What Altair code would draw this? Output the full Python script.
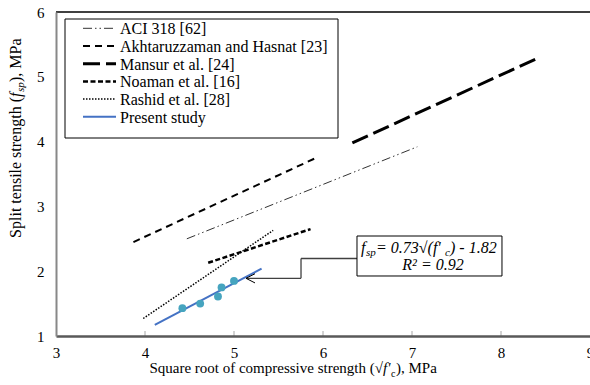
import altair as alt
import pandas as pd

# ---------------- data ----------------
x_ticks = [3, 4, 5, 6, 7, 8, 9]
y_ticks = [1, 2, 3, 4, 5, 6]

# present-study test results
test_x = [4.42, 4.62, 4.82, 4.86, 5.00]
test_y = [1.43, 1.50, 1.61, 1.75, 1.85]

# model lines (start / end points)
series_names = ["ACI 318 [62]", "Akhtaruzzaman and Hasnat [23]", "Mansur et al. [24]",
                "Noaman et al. [16]", "Rashid et al. [28]", "Present study"]
line_x0 = [4.47, 3.87, 6.33, 4.71, 3.98, 4.11]
line_y0 = [2.50, 2.45, 3.98, 2.13, 1.27, 1.17]
line_x1 = [7.06, 5.94, 8.40, 5.86, 5.44, 5.31]
line_y1 = [3.92, 3.76, 5.28, 2.65, 2.63, 2.04]

# annotation (data units)
box_x = [6.382]
box_x2 = [8.011]
box_y = [2.543]
box_y2 = [1.926]
seg_x = [6.382, 5.753, 5.753]
seg_y = [2.196, 2.196, 1.890]
seg_x2 = [5.753, 5.753, 5.135]
seg_y2 = [2.196, 1.890, 1.890]
head_x = [5.135, 5.135]
head_y = [1.890, 1.890]
head_x2 = [5.236, 5.236]
head_y2 = [1.961, 1.819]

# ---------------- styling ----------------
FONT = "Liberation Serif"
W, H = 534, 324
styles = [
    dict(strokeDash=[9, 3, 1.5, 3, 1.5, 3], strokeWidth=1, color="#333333"),
    dict(strokeDash=[7, 5], strokeWidth=2, color="black"),
    dict(strokeDash=[17, 6], strokeWidth=3, color="black"),
    dict(strokeDash=[5, 2.5], strokeWidth=2.5, color="black"),
    dict(strokeDash=[1.5, 1.5], strokeWidth=1.5, color="black"),
    dict(strokeWidth=2, color="#4472C4"),
]

xs = alt.Scale(domain=[3, 9], nice=False, zero=False)
ys = alt.Scale(domain=[1, 6], nice=False, zero=False)
xaxis = alt.Axis(values=x_ticks, title=None, ticks=False, tickSize=0, grid=False,
                 labelFont=FONT, labelFontSize=15, labelColor="black", labelPadding=9,
                 labelFlush=False, labelOverlap=False, domainColor="#595959",
                 domainWidth=2.5, zindex=1)
yaxis = alt.Axis(values=y_ticks, title=None, ticks=False, tickSize=0, grid=False,
                 labelFont=FONT, labelFontSize=15, labelColor="black", labelPadding=12,
                 labelFlush=False, labelOverlap=False, domainColor="#888888",
                 domainWidth=2, zindex=1)


def X(f):
    return alt.X(f, type="quantitative", scale=xs, axis=xaxis)


def Y(f):
    return alt.Y(f, type="quantitative", scale=ys, axis=yaxis)


one = pd.DataFrame({"k": [0]})
layers = []

# top frame line
layers.append(alt.Chart(one).mark_rule(color="black", strokeWidth=1.5).encode(
    x=alt.value(0), x2=alt.value(W), y=alt.value(0)))

# inner x ticks
tick_df = pd.DataFrame({"t": x_ticks[1:-1]})
layers.append(alt.Chart(tick_df).mark_rule(color="#a6a6a6", strokeWidth=1).encode(
    x=X("t"), y=alt.value(H), y2=alt.value(H - 5)))

# model lines
for i, name in enumerate(series_names):
    df = pd.DataFrame({"x": [line_x0[i]], "y": [line_y0[i]],
                       "x2": [line_x1[i]], "y2": [line_y1[i]], "s": [name]})
    layers.append(alt.Chart(df).mark_rule(**styles[i]).encode(
        x=X("x"), y=Y("y"), x2="x2", y2="y2"))

# test points
pts = pd.DataFrame({"x": test_x, "y": test_y})
layers.append(alt.Chart(pts).mark_circle(size=62, color="#46A4BF", opacity=1).encode(
    x=X("x"), y=Y("y")))

# annotation connector
seg = pd.DataFrame({"x": seg_x, "y": seg_y, "x2": seg_x2, "y2": seg_y2})
layers.append(alt.Chart(seg).mark_rule(color="#404040", strokeWidth=1.3).encode(
    x=X("x"), y=Y("y"), x2="x2", y2="y2"))
head = pd.DataFrame({"x": head_x, "y": head_y, "x2": head_x2, "y2": head_y2})
layers.append(alt.Chart(head).mark_rule(color="black", strokeWidth=1).encode(
    x=X("x"), y=Y("y"), x2="x2", y2="y2"))

# annotation box
box = pd.DataFrame({"x": box_x, "x2": box_x2, "y": box_y, "y2": box_y2})
layers.append(alt.Chart(box).mark_rect(fill="white", stroke="black", strokeWidth=1).encode(
    x=X("x"), x2="x2", y=Y("y"), y2="y2"))

# equation text pieces
eq_anchor = pd.DataFrame({"x": [6.427], "y": [2.281]})
eq_pieces = [("f", 0, 0, 16), ("sp", 5, 3, 11), (" = 0.73\u221a(f'", 15, 0, 16),
             ("c", 84, 3, 11), (") - 1.82", 89, 0, 16)]
for txt, dx, dy, fs in eq_pieces:
    layers.append(alt.Chart(eq_anchor).mark_text(
        text=txt, align="left", baseline="alphabetic", dx=dx, dy=dy, font=FONT,
        fontStyle="italic", fontSize=fs, color="black").encode(x=X("x"), y=Y("y")))
r2_anchor = pd.DataFrame({"x": [7.236], "y": [2.019]})
layers.append(alt.Chart(r2_anchor).mark_text(
    text="R\u00b2 = 0.92", align="center", baseline="alphabetic", font=FONT,
    fontStyle="italic", fontSize=16, color="black").encode(x=X("x"), y=Y("y")))

# legend
layers.append(alt.Chart(one).mark_rect(fill="white", stroke="black", strokeWidth=1).encode(
    x=alt.value(9), x2=alt.value(282), y=alt.value(7), y2=alt.value(126)))
for i, name in enumerate(series_names):
    ry = 16.3 + i * 17.7
    layers.append(alt.Chart(one).mark_rule(**styles[i]).encode(
        x=alt.value(27), x2=alt.value(60), y=alt.value(ry)))
    layers.append(alt.Chart(one).mark_text(
        text=name, align="left", baseline="middle", font=FONT, fontSize=16,
        color="black").encode(x=alt.value(64), y=alt.value(ry + 1)))

# x axis title pieces
xt = [("Square root of compressive strength (\u221a", "right", "normal", 0, 0, 15),
      ("f'", "left", "italic", 0, 0, 15),
      ("c", "left", "normal", 8, 4, 10),
      ("), MPa", "left", "normal", 13, 0, 15)]
for txt, al, st, dx, dy, fs in xt:
    layers.append(alt.Chart(one).mark_text(
        text=txt, align=al, baseline="alphabetic", fontStyle=st, dx=dx, dy=dy,
        font=FONT, fontSize=fs, color="black").encode(
        x=alt.value(383 - 56), y=alt.value(361)))

# y axis title pieces (rotated)
yt = [("Split tensile strength (", "right", "normal", 0, 0, 16),
      ("f", "left", "italic", 0, 0, 16),
      ("sp", "left", "italic", 5, 3, 11),
      ("), MPa", "left", "normal", 15, 0, 16)]
for txt, al, st, dx, dy, fs in yt:
    layers.append(alt.Chart(one).mark_text(
        text=txt, align=al, baseline="alphabetic", fontStyle=st, dx=dx, dy=dy,
        angle=270, font=FONT, fontSize=fs, color="black").encode(
        x=alt.value(21 - 56), y=alt.value(97 - 12)))

chart = alt.layer(*layers).properties(
    width=W, height=H,
    padding={"left": 56, "top": 12, "right": 0, "bottom": 49},
    autosize=alt.AutoSizeParams(type="none"),
    background="white",
).configure_view(stroke=None)

chart.save("out.html", embed_options={"renderer": "svg", "actions": False})
